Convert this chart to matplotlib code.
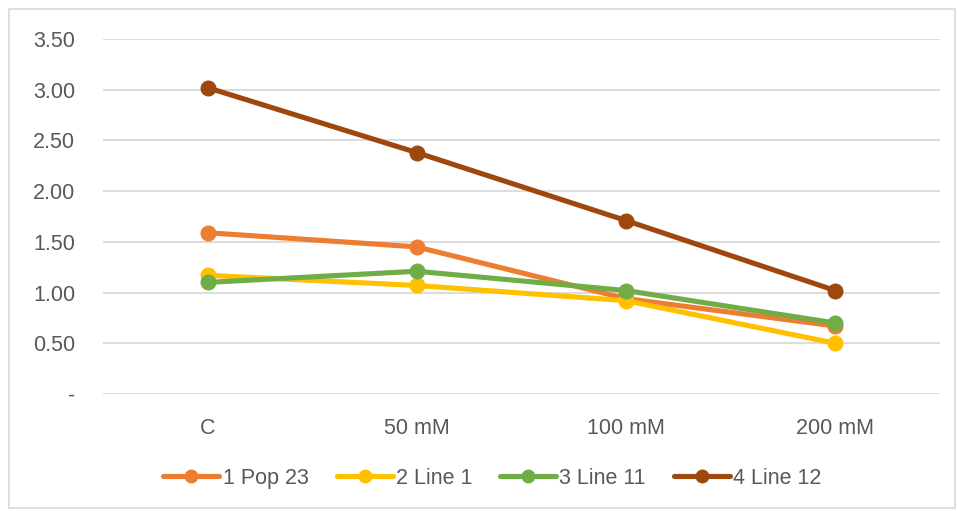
import matplotlib.pyplot as plt
from matplotlib.patches import Rectangle
from matplotlib.ticker import FuncFormatter

plt.rcParams['font.family'] = ['Liberation Sans', 'DejaVu Sans']

categories = ["C", "50 mM", "100 mM", "200 mM"]
series_names = ["1 Pop 23", "2 Line 1", "3 Line 11", "4 Line 12"]
pop23 = [1.59, 1.45, 0.94, 0.67]
line1 = [1.17, 1.07, 0.92, 0.50]
line11 = [1.10, 1.21, 1.02, 0.70]
line12 = [3.02, 2.38, 1.71, 1.02]
colors = ["#ED7D31", "#FFC000", "#70AD47", "#9E480E"]

fig = plt.figure(figsize=(9.58, 5.11), dpi=100)
ax = fig.add_axes([0.1075, 0.229, 0.8735, 0.6947])

x = list(range(len(categories)))
for name, vals, c in zip(series_names, [pop23, line1, line11, line12], colors):
    ax.plot(x, vals, color=c, lw=3.7, marker="o", ms=10.5,
            solid_capstyle="round", label=name)

ax.set_xlim(-0.5, 3.5)
ax.set_ylim(0, 3.5)
ax.set_yticks([0, 0.5, 1, 1.5, 2, 2.5, 3, 3.5])
ax.yaxis.set_major_formatter(FuncFormatter(lambda v, p: "-" if v == 0 else f"{v:.2f}"))
ax.set_xticks(x)
ax.set_xticklabels(categories)
ax.grid(axis="y", color="#D9D9D9", lw=1.3)
ax.set_axisbelow(True)
for s in ax.spines.values():
    s.set_visible(False)
ax.tick_params(length=0, labelsize=15.5, colors="#595959")
ax.tick_params(axis="y", pad=20)
ax.tick_params(axis="x", pad=17)

leg = fig.legend(loc="center", bbox_to_anchor=(0.514, 0.064), ncol=4,
                 frameon=False, fontsize=15.5, labelcolor="#595959",
                 handlelength=2.6, handletextpad=0.15, columnspacing=1.3)
for h in leg.legend_handles:
    h.set_markersize(9)

fig.patches.append(Rectangle((9 / 958, 3 / 511), 946 / 958, 499 / 511,
                             transform=fig.transFigure, fill=False,
                             edgecolor="#D9D9D9", lw=1.2))

fig.savefig("out.png", dpi=100)
